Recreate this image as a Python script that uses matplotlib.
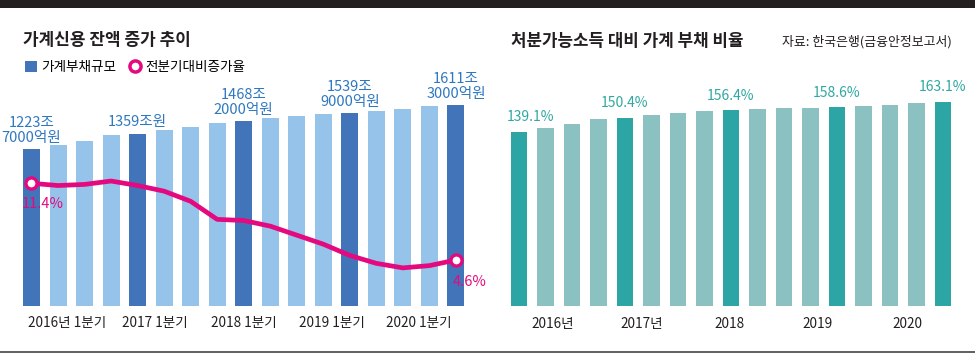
import matplotlib
matplotlib.use("Agg")
import matplotlib.pyplot as plt
from matplotlib.patches import Rectangle, Patch
from matplotlib.lines import Line2D
import numpy as np

plt.rcParams['font.family'] = ['Noto Sans CJK KR', 'DejaVu Sans']

# ---- data ----
debt = [1223.7, 1257.3, 1295.8, 1342.5, 1359.1, 1388.3, 1419.3, 1450.8,
        1468.2, 1493.2, 1514.4, 1534.7, 1539.9, 1556.7, 1572.5, 1600.1, 1611.3]
growth = [11.4, 11.2, 11.3, 11.6, 11.2, 10.7, 9.8, 8.2, 8.1, 7.6, 6.8, 6.0,
          5.0, 4.3, 3.9, 4.1, 4.6]
ratio = [139.1, 142.1, 145.5, 149.6, 150.4, 152.8, 154.2, 155.9, 156.4,
         157.1, 157.9, 158.4, 158.6, 159.5, 160.5, 162.3, 163.1]
highlight = [0, 4, 8, 12, 16]
debt_labels = ["1223조\n7000억원", "1359조원", "1468조\n2000억원",
               "1539조\n9000억원", "1611조\n3000억원"]
left_ticks = ["2016년 1분기", "2017 1분기", "2018 1분기", "2019 1분기", "2020 1분기"]
right_ticks = ["2016년", "2017년", "2018", "2019", "2020"]
left_title = "가계신용 잔액 증가 추이"
right_title = "처분가능소득 대비 가계 부채 비율"
source = "자료: 한국은행(금융안정보고서)"
legend_names = ["가계부채규모", "전분기대비증가율"]

# ---- styles ----
W, H = 975, 354
DBLUE, LBLUE, TBLUE = "#4274B9", "#95C3E9", "#2F78C0"
MAG = "#E4097F"
DTEAL, LTEAL, TTEAL = "#2DA5A4", "#8BC1C1", "#2FA8A2"
TXT = "#231F20"

fig = plt.figure(figsize=(W / 100, H / 100), dpi=100)

def px_axes(x0, x1, ytop, ybot):
    return fig.add_axes([x0 / W, (H - ybot) / H, (x1 - x0) / W, (ybot - ytop) / H])

n = len(debt)
x = np.arange(n)

# ---- left chart ----
axL = px_axes(15, 475, 60, 306)
base = -160
cols = [DBLUE if i in highlight else LBLUE for i in range(n)]
axL.bar(x, np.array(debt) - base, bottom=base, width=0.64, color=cols, zorder=1)
axL.set_xlim((15 - 31.5) / 26.53, (475 - 31.5) / 26.53)
axL.set_ylim(base, base + 246 / 0.1135)
for k, i in enumerate(highlight):
    axL.annotate(debt_labels[k], (x[i], debt[i]), xytext=(0, 3), textcoords="offset points",
                 ha="center", va="bottom", fontsize=10.5, color=TBLUE, linespacing=1.05)
axL.set_xticks([1.34, 4.65, 8.01, 11.33, 14.6])
axL.set_xticklabels(left_ticks, fontsize=9.8, color=TXT)
axL.tick_params(axis="x", length=0, pad=7)
axL.set_yticks([])
for s in axL.spines.values():
    s.set_visible(False)
axL.patch.set_alpha(0)

axL2 = axL.twinx()
axL2.set_ylim(0.52, 22.33)
axL2.plot(x, growth, color=MAG, lw=3.4, solid_joinstyle="round", solid_capstyle="round", zorder=3)
axL2.plot([x[0], x[-1]], [growth[0], growth[-1]], linestyle="none", marker="o",
          markersize=8, markerfacecolor="white", markeredgecolor=MAG, markeredgewidth=2.4, zorder=4)
axL2.annotate(f"{growth[0]}%", (x[0], growth[0]), xytext=(8.3, -15), textcoords="offset points",
              ha="center", va="center", fontsize=10.5, color=MAG)
axL2.annotate(f"{growth[-1]}%", (x[-1], growth[-1]), xytext=(10, -16), textcoords="offset points",
              ha="center", va="center", fontsize=10.5, color=MAG)
axL2.set_yticks([])
for s in axL2.spines.values():
    s.set_visible(False)

# legend
handles = [Patch(facecolor=DBLUE, edgecolor="none"),
           Line2D([], [], linestyle="none", marker="o", markersize=8, markerfacecolor="white",
                  markeredgecolor=MAG, markeredgewidth=2.5)]
fig.legend(handles, legend_names, loc="center left", bbox_to_anchor=(25 / W, (H - 67) / H),
           ncol=2, frameon=False, fontsize=9.8, handlelength=0.9, handleheight=0.9,
           handletextpad=0.3, columnspacing=0.9, borderpad=0, borderaxespad=0)

fig.text(23 / W, (H - 40) / H, left_title, fontsize=12.2, fontweight="bold", color=TXT,
         ha="left", va="center")

# ---- right chart ----
axR = px_axes(500, 965, 60, 306)
colsR = [DTEAL if i in highlight else LTEAL for i in range(n)]
axR.bar(x, ratio, width=0.63, color=colsR)
axR.set_xlim((500 - 519) / 26.5, (965 - 519) / 26.5)
axR.set_ylim(1.3, 1.3 + 246 / 1.2625)
for k, i in enumerate(highlight):
    dx = 8 if k == 0 else 0
    axR.annotate(f"{ratio[i]:.1f}%", (x[i], ratio[i]), xytext=(dx, 5.5), textcoords="offset points",
                 ha="center", va="bottom", fontsize=10, color=TTEAL)
axR.set_xticks([1.28, 4.64, 7.96, 11.28, 14.64])
axR.set_xticklabels(right_ticks, fontsize=9.8, color=TXT)
axR.tick_params(axis="x", length=0, pad=8)
axR.set_yticks([])
for s in axR.spines.values():
    s.set_visible(False)
axR.patch.set_alpha(0)

fig.text(511 / W, (H - 41) / H, right_title, fontsize=12.1, fontweight="bold", color=TXT,
         ha="left", va="center")
fig.text(952 / W, (H - 42) / H, source, fontsize=9.3, color=TXT, ha="right", va="center")

# frame decorations
fig.patches.append(Rectangle((0, 1 - 8 / H), 1, 8 / H, transform=fig.transFigure,
                             facecolor="#231F20", edgecolor="none"))
fig.add_artist(Line2D([0, 1], [1.8 / H, 1.8 / H], transform=fig.transFigure, color="#444444", lw=1.2))

fig.savefig("out.png", dpi=100)
